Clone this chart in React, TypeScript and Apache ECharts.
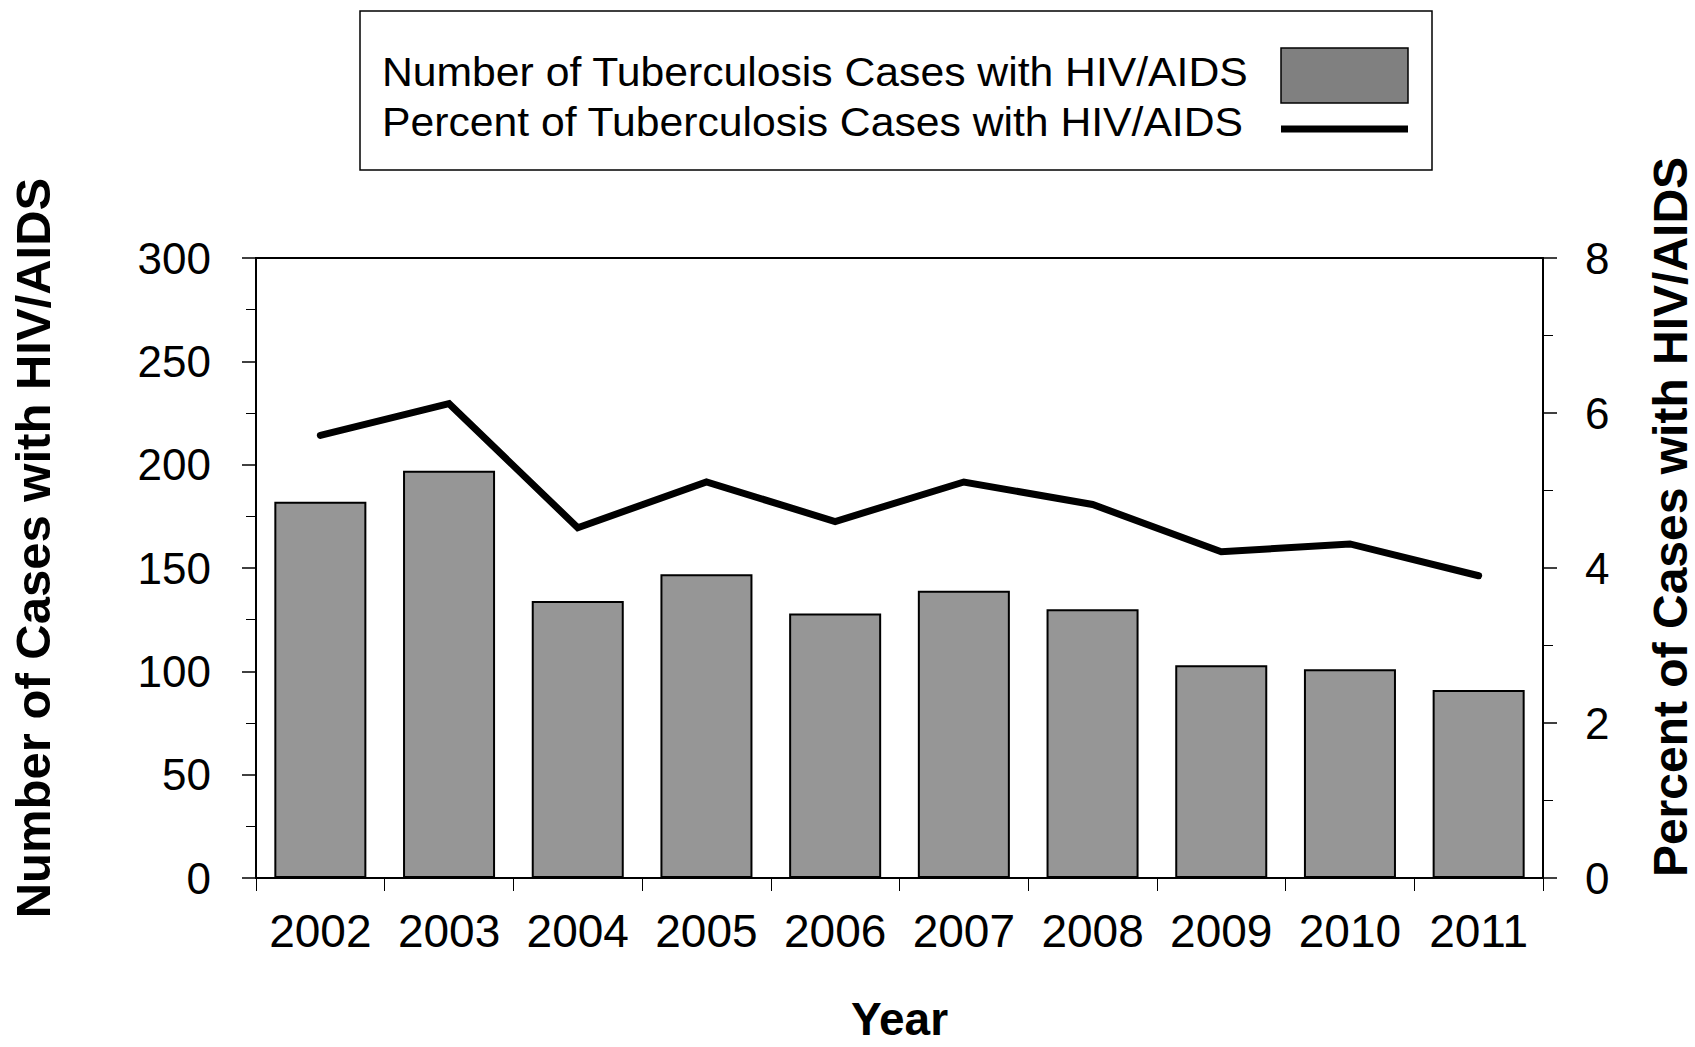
import React, { useEffect, useRef } from "react";
import * as echarts from "echarts";

const years = ["2002", "2003", "2004", "2005", "2006", "2007", "2008", "2009", "2010", "2011"];
const caseCounts = [182, 197, 134, 147, 128, 139, 130, 103, 101, 91];
const percentCases = [5.71, 6.12, 4.52, 5.11, 4.6, 5.11, 4.82, 4.21, 4.31, 3.9];
const legendLabels = [
  "Number of Tuberculosis Cases with HIV/AIDS",
  "Percent of Tuberculosis Cases with HIV/AIDS",
];
const leftAxisTitle = "Number of Cases with HIV/AIDS";
const rightAxisTitle = "Percent of Cases with HIV/AIDS";
const xAxisTitle = "Year";

const FONT = "'Liberation Sans', Arial, Helvetica, sans-serif";

export default function App() {
  const ref = useRef<HTMLDivElement>(null);
  useEffect(() => {
    if (!ref.current) return;
    const chart = echarts.init(ref.current, undefined, { renderer: "svg" });
    const axisCommon = {
      axisLine: { show: true, lineStyle: { color: "#000", width: 2 } },
      axisTick: { show: true, length: 14, lineStyle: { color: "#000", width: 1.5 } },
      minorTick: { show: true, splitNumber: 2, length: 10, lineStyle: { color: "#000", width: 1 } },
      splitLine: { show: false },
      minorSplitLine: { show: false },
    };
    chart.setOption({
      animation: false,
      backgroundColor: "#fff",
      textStyle: { fontFamily: FONT },
      grid: {
        left: 256,
        right: 152,
        top: 258,
        bottom: 167,
        containLabel: false,
        show: true,
        borderColor: "#000",
        borderWidth: 2,
        backgroundColor: "transparent",
      },
      xAxis: {
        type: "category",
        data: years,
        boundaryGap: true,
        axisLine: { show: true, lineStyle: { color: "#000", width: 2 } },
        axisTick: { show: true, interval: 0, length: 13, lineStyle: { color: "#000", width: 1 } },
        axisLabel: {
          interval: 0,
          hideOverlap: false,
          fontSize: 46,
          color: "#000",
          margin: 30,
          fontFamily: FONT,
        },
        name: xAxisTitle,
        nameLocation: "middle",
        nameGap: 118,
        nameTextStyle: { fontSize: 46, fontWeight: "bold", color: "#000", fontFamily: FONT },
      },
      yAxis: [
        {
          type: "value",
          position: "left",
          min: 0,
          max: 300,
          interval: 50,
          ...axisCommon,
          axisLabel: { fontSize: 44, color: "#000", margin: 45, fontFamily: FONT },
        },
        {
          type: "value",
          position: "right",
          min: 0,
          max: 8,
          interval: 2,
          ...axisCommon,
          axisLabel: { fontSize: 44, color: "#000", margin: 42, fontFamily: FONT },
        },
      ],
      series: [
        {
          name: legendLabels[0],
          type: "bar",
          yAxisIndex: 0,
          data: caseCounts,
          barWidth: "71.5%",
          itemStyle: { color: "#969696", borderColor: "#000", borderWidth: 2 },
          z: 2,
        },
        {
          name: legendLabels[1],
          type: "line",
          yAxisIndex: 1,
          data: percentCases,
          symbol: "none",
          lineStyle: { color: "#000", width: 7, cap: "round", join: "miter" },
          z: 3,
        },
      ],
      graphic: [
        {
          type: "text",
          x: 33,
          y: 548,
          rotation: Math.PI / 2,
          style: {
            text: leftAxisTitle,
            fontSize: 49,
            fontWeight: "bold",
            fontFamily: FONT,
            fill: "#000",
            textAlign: "center",
            textVerticalAlign: "middle",
          },
        },
        {
          type: "text",
          x: 1670,
          y: 517,
          rotation: Math.PI / 2,
          style: {
            text: rightAxisTitle,
            fontSize: 48,
            fontWeight: "bold",
            fontFamily: FONT,
            fill: "#000",
            textAlign: "center",
            textVerticalAlign: "middle",
          },
        },
        {
          type: "rect",
          shape: { x: 360, y: 11, width: 1072, height: 159 },
          style: { fill: "#fff", stroke: "#000", lineWidth: 1.5 },
          z: 10,
        },
        {
          type: "text",
          x: 382,
          y: 72,
          scaleX: 1.067,
          style: {
            text: legendLabels[0],
            fontSize: 40,
            fontFamily: FONT,
            fill: "#000",
            textAlign: "left",
            textVerticalAlign: "middle",
          },
          z: 11,
        },
        {
          type: "text",
          x: 382,
          y: 122,
          scaleX: 1.067,
          style: {
            text: legendLabels[1],
            fontSize: 40,
            fontFamily: FONT,
            fill: "#000",
            textAlign: "left",
            textVerticalAlign: "middle",
          },
          z: 11,
        },
        {
          type: "rect",
          shape: { x: 1281, y: 48, width: 127, height: 55 },
          style: { fill: "#808080", stroke: "#000", lineWidth: 1.5 },
          z: 11,
        },
        {
          type: "line",
          shape: { x1: 1281, y1: 129, x2: 1408, y2: 129 },
          style: { stroke: "#000", lineWidth: 7 },
          z: 11,
        },
      ],
    });
    return () => chart.dispose();
  }, []);
  return (
    <div
      ref={ref}
      style={{ position: "absolute", left: 0, top: 0, width: 1695, height: 1047 }}
    />
  );
}
